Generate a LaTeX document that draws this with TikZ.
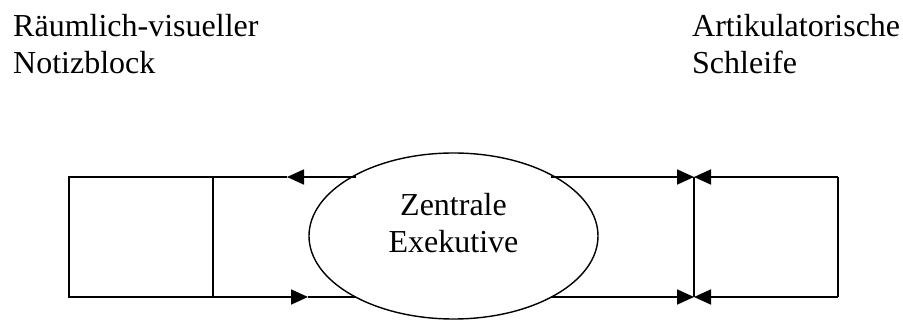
\documentclass[tikz,border=0pt]{standalone}
\usepackage{fontspec}
\setmainfont{Liberation Serif}
\usetikzlibrary{arrows.meta,shapes.geometric}
\tikzset{
  lbl/.style={align=left, inner sep=0pt, anchor=base west, font=\fontsize{32}{37}\selectfont},
  ctr/.style={align=center, inner sep=0pt, font=\fontsize{32}{37}\selectfont},
  ln/.style={line width=1.8pt},
  tip/.style={-{Triangle[length=17pt,width=15pt]}, line width=1.8pt}
}
\begin{document}
\begin{tikzpicture}[x=1pt,y=-1pt]
\useasboundingbox (0,0) rectangle (903,320);
\node[lbl] (nb) at (13,74) {Räumlich-visueller\\Notizblock};
\node[lbl] (as) at (692,74) {Artikulatorische\\Schleife};
\node[draw, ellipse, minimum width=289pt, minimum height=166pt, inner sep=0pt, line width=1.4pt] (ze) at (453.5,236) {};
\node[ctr] (zt) at (453.5,223) {Zentrale\\Exekutive};
% left box
\coordinate (l1) at (69,177);
\coordinate (l2) at (213,177);
\coordinate (l3) at (213,297);
\coordinate (l4) at (69,297);
\coordinate (et) at (356,177);
\coordinate (eb) at (356,297);
\coordinate (mt) at (287,177);
\coordinate (mb) at (308,297);
\draw[ln] (l2) -- (l1) -- (l4) -- (l3) -- cycle;
\draw[tip] (et) -- (mt);
\draw[ln] (mt) -- (l2);
\draw[tip] (l3) -- (mb);
\draw[ln] (mb) -- (eb);
% right box
\coordinate (ft) at (551,177);
\coordinate (fb) at (551,297);
\coordinate (r1) at (694,177);
\coordinate (r2) at (838,177);
\coordinate (r3) at (838,297);
\coordinate (r4) at (694,297);
\draw[ln] (r1) -- (r4);
\draw[ln] (r2) -- (r3);
\draw[tip] (ft) -- (r1);
\draw[tip] (fb) -- (r4);
\draw[tip] (r2) -- (r1);
\draw[tip] (r3) -- (r4);
\end{tikzpicture}
\end{document}
